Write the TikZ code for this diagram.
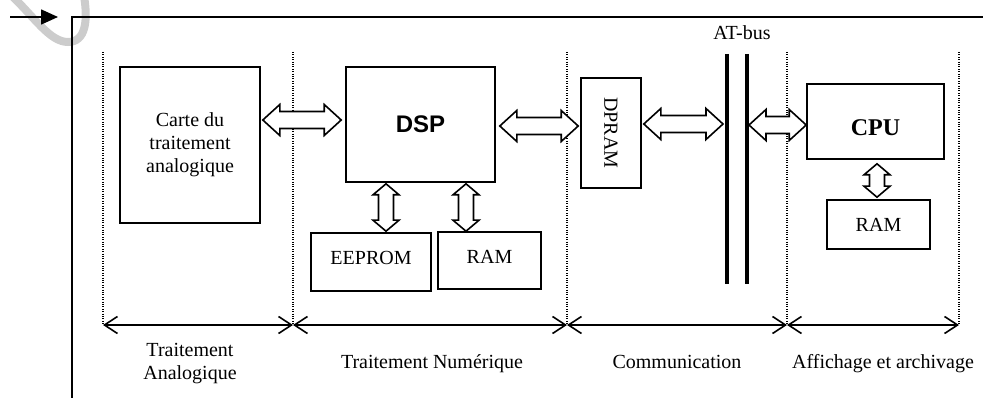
\documentclass[tikz,border=0pt]{standalone}
\usepackage{fontspec}
\setmainfont{Liberation Serif}
\newfontfamily\arialfont{Liberation Sans}
\usetikzlibrary{calc,arrows.meta}

% hollow double block arrow, horizontal (x taken from both ends, y from the first)
\newcommand\hdarrow[2]{%
  \draw[blockarrow] let \p1=#1, \p2=#2 in
    (\x1,\y1) -- (\x1+17pt,\y1+15.5pt) -- (\x1+17pt,\y1+8.5pt) --
    (\x2-17pt,\y1+8.5pt) -- (\x2-17pt,\y1+15.5pt) -- (\x2,\y1) --
    (\x2-17pt,\y1-15.5pt) -- (\x2-17pt,\y1-8.5pt) --
    (\x1+17pt,\y1-8.5pt) -- (\x1+17pt,\y1-15.5pt) -- cycle;}
% hollow double block arrow, vertical (x from the first end, top to bottom)
\newcommand\vdarrow[2]{%
  \draw[blockarrow] let \p1=#1, \p2=#2 in
    (\x1,\y1) -- (\x1+13pt,\y1-11pt) -- (\x1+7.5pt,\y1-11pt) --
    (\x1+7.5pt,\y2+11pt) -- (\x1+13pt,\y2+11pt) -- (\x1,\y2) --
    (\x1-13pt,\y2+11pt) -- (\x1-7.5pt,\y2+11pt) --
    (\x1-7.5pt,\y1-11pt) -- (\x1-13pt,\y1-11pt) -- cycle;}

\begin{document}
\begin{tikzpicture}[x=1pt,y=-1pt,
  every node/.style={font=\fontsize{20}{23}\selectfont},
  box/.style={draw, line width=1.6pt, inner sep=0pt, align=center},
  blockarrow/.style={draw, fill=white, line width=1.6pt, line join=miter},
  frame/.style={line width=1.8pt},
  sep/.style={line width=1.3pt, dash pattern=on 1.1pt off 1.3pt},
  dim/.style={line width=1.6pt,
    {Straight Barb[length=13pt,width=17pt]}-{Straight Barb[length=13pt,width=17pt]}},
  bus/.style={line width=4.5pt},
  lbl/.style={align=center, anchor=base}]
\useasboundingbox (0,0) rectangle (983,398);

% faint grey clip mark at the top left corner
\draw[line width=8pt, color=black!20, line cap=round]
  (12,-4) .. controls (35,18) and (50,42) .. (68,42)
          .. controls (86,42) and (88,20) .. (84,-4);

% outer frame and entry arrow
\coordinate (fc) at (72,17);
\coordinate (fr) at (984,17);
\coordinate (fb) at (72,399);
\coordinate (in) at (10,17);
\draw[frame] (fr) -- (fc) -- (fb);
\draw[line width=1.6pt, -{Triangle[length=17pt,width=15pt]}] (in) -- ($(fc)+(-14,0)$);

% stage separators
\foreach \n/\x in {1/103,2/293,3/567,4/787,5/959}{
  \coordinate (s\n t) at (\x,52);
  \coordinate (s\n b) at (\x,325);
  \draw[sep] (s\n t) -- (s\n b);
}

% blocks
\node[box, minimum width=140pt, minimum height=156pt] (carte) at (190,145)
  {Carte du\\traitement\\analogique};
\node[box, minimum width=149pt, minimum height=115pt, font=\arialfont\bfseries\fontsize{24}{28}\selectfont]
  (dsp) at (420.5,124.5) {DSP};
\node[box, minimum width=120pt, minimum height=58pt, text depth=8pt] (eeprom) at (371,262) {EEPROM};
\node[box, minimum width=103pt, minimum height=57pt, text depth=8pt] (ramd) at (489.5,260.5) {RAM};
\node[box, minimum width=60pt, minimum height=110pt] (dpram) at (611,133) {};
\node[rotate=-90] (dpramtxt) at (dpram.center) {DPRAM};
\node[box, minimum width=137pt, minimum height=75pt, text height=29pt,
  font=\bfseries\fontsize{24}{28}\selectfont] (cpu) at (875.5,121.5) {CPU};
\node[box, minimum width=103pt, minimum height=49pt] (ramc) at (878.5,224.5) {RAM};

% AT bus
\coordinate (busLt) at (727,54);
\coordinate (busLb) at (727,284);
\coordinate (busRt) at (747,54);
\coordinate (busRb) at (747,284);
\draw[bus] (busLt) -- (busLb);
\draw[bus] (busRt) -- (busRb);
\node (atbus) at (742,33) {AT-bus};

% data paths
\hdarrow{($(carte.east |- dsp.west)+(2,-4.5)$)}{($(dsp.west)+(-4,0)$)}
\hdarrow{($(dsp.east)+(4,1.5)$)}{($(dpram.west)+(-2,0)$)}
\hdarrow{($(dpram.east)+(2,-9)$)}{($(busLt)+(-4,0)$)}
\hdarrow{($(busRt |- cpu.west)+(2,3.5)$)}{(cpu.west)}
\vdarrow{($(eeprom.north |- dsp.south)+(15,1)$)}{($(eeprom.north)+(0,-1)$)}
\vdarrow{($(ramd.north |- dsp.south)+(-23.5,1)$)}{($(ramd.north)+(0,0)$)}
\vdarrow{($(cpu.south)+(1.5,4)$)}{($(ramc.north)+(0,-2)$)}

% stage extents
\draw[dim] (s1b) -- (s2b);
\draw[dim] (s2b) -- (s3b);
\draw[dim] (s3b) -- (s4b);
\draw[dim] (s4b) -- (s5b);

\node[lbl] (l1) at (190,379) {Traitement\\Analogique};
\node[lbl] (l2) at (432,368) {Traitement Numérique};
\node[lbl] (l3) at (677,368) {Communication};
\node[lbl] (l4) at (883,368) {Affichage et archivage};
\end{tikzpicture}
\end{document}
